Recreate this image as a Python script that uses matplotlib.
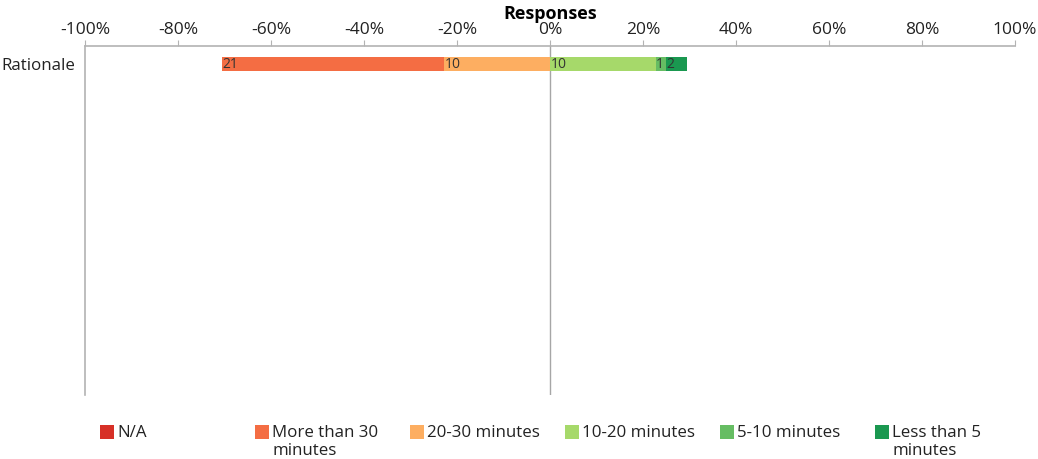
#!/usr/bin/env python3

import matplotlib.pyplot as plt
from matplotlib.patches import Rectangle
from matplotlib.ticker import FuncFormatter


OUTPUT_PNG = "out.png"

QUESTION = "Rationale"

# Answer categories, from the most negative to the most positive.
NEGATIVE_CATEGORIES = [
    "N/A",
    "More than 30\nminutes",
    "20-30 minutes",
]

POSITIVE_CATEGORIES = [
    "10-20 minutes",
    "5-10 minutes",
    "Less than 5\nminutes",
]

NEGATIVE_COUNTS = [0, 21, 10]
POSITIVE_COUNTS = [10, 1, 2]

COLORS = [
    "#d73027",
    "#f46d43",
    "#fdae61",
    "#a6d96a",
    "#66bd63",
    "#1a9850",
]

X_TICKS = [-100, -80, -60, -40, -20, 0, 20, 40, 60, 80, 100]

plt.rcParams["font.family"] = ["Open Sans", "DejaVu Sans"]


def create_plot() -> None:
    total = sum(NEGATIVE_COUNTS) + sum(POSITIVE_COUNTS)

    figure = plt.figure(figsize=(10.38, 4.59), dpi=100)
    axis = figure.add_axes([0.0819, 0.1394, 0.8959, 0.7604])

    bar_height = 0.8
    label_style = dict(
        ha="left",
        va="center",
        fontsize=10,
        color="#333333",
        zorder=4,
    )

    # Negative side stacks outward from zero, nearest category first.
    left_edge = 0.0
    for index in reversed(range(len(NEGATIVE_COUNTS))):
        count = NEGATIVE_COUNTS[index]
        share = count / total * 100
        left_edge -= share
        if count == 0:
            continue
        axis.barh(
            0,
            share,
            left=left_edge,
            height=bar_height,
            color=COLORS[index],
            linewidth=0,
            zorder=3,
        )
        axis.text(left_edge + 0.1, 0, str(count), **label_style)

    right_edge = 0.0
    for offset, count in enumerate(POSITIVE_COUNTS):
        share = count / total * 100
        if count > 0:
            axis.barh(
                0,
                share,
                left=right_edge,
                height=bar_height,
                color=COLORS[len(NEGATIVE_COUNTS) + offset],
                linewidth=0,
                zorder=3,
            )
            axis.text(right_edge + 0.1, 0, str(count), **label_style)
        right_edge += share

    axis.axvline(0, color="#a6a6a6", linewidth=1.0, zorder=1)

    axis.set_xlim(-100, 100)
    axis.set_ylim(18.9, -1.03)

    axis.xaxis.tick_top()
    axis.xaxis.set_label_position("top")
    axis.set_xticks(X_TICKS)
    axis.xaxis.set_major_formatter(
        FuncFormatter(lambda value, position: f"{value:.0f}%")
    )
    axis.tick_params(
        axis="x",
        length=4,
        width=0.8,
        color="#b3b3b3",
        labelsize=12.5,
        labelcolor="#222222",
        pad=2,
    )

    axis.set_yticks([0])
    axis.set_yticklabels([QUESTION])
    axis.tick_params(
        axis="y",
        length=0,
        labelsize=12.2,
        labelcolor="#222222",
        pad=7,
    )

    axis.set_xlabel(
        "Responses",
        fontsize=13,
        fontweight="bold",
        labelpad=2,
    )

    for side in ["bottom", "right"]:
        axis.spines[side].set_visible(False)
    for side in ["top", "left"]:
        axis.spines[side].set_color("#b3b3b3")
        axis.spines[side].set_linewidth(1.2)

    # Legend entries sit in evenly spaced slots along the bottom.
    categories = NEGATIVE_CATEGORIES + POSITIVE_CATEGORIES
    width, height = figure.get_size_inches() * figure.dpi
    slot_start = 100 / width
    slot_step = 155 / width
    square_w = 14 / width
    square_h = 14 / height
    square_top = 1 - 425 / height

    for index, (label, color) in enumerate(zip(categories, COLORS)):
        x = slot_start + index * slot_step
        figure.add_artist(
            Rectangle(
                (x, square_top - square_h),
                square_w,
                square_h,
                transform=figure.transFigure,
                facecolor=color,
                edgecolor="none",
            )
        )
        figure.text(
            x + square_w + 3 / width,
            square_top,
            label,
            ha="left",
            va="top",
            fontsize=12.2,
            color="#222222",
            linespacing=1.2,
        )

    figure.savefig(OUTPUT_PNG, dpi=100)
    plt.close(figure)


def main() -> None:
    create_plot()


if __name__ == "__main__":
    main()
